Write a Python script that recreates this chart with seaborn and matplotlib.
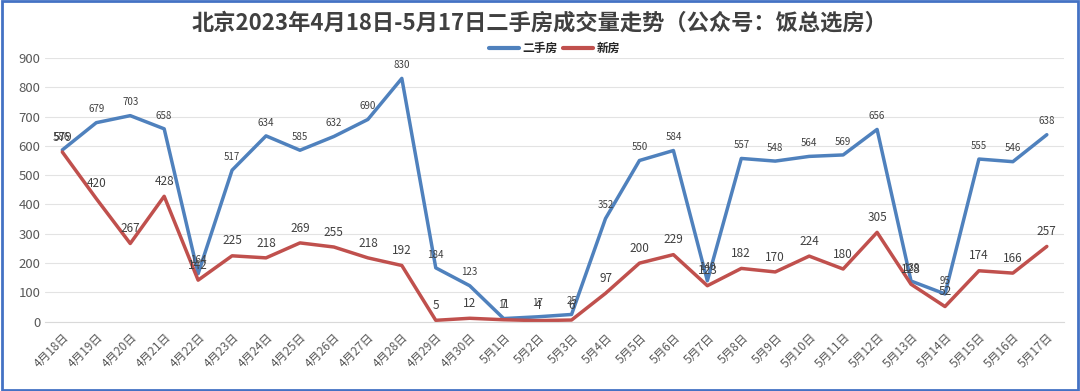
import pandas as pd
import matplotlib.pyplot as plt
import seaborn as sns

# -----------------------------
# Data
# -----------------------------
dates = ['4月18日', '4月19日', '4月20日', '4月21日', '4月22日', '4月23日', '4月24日',
         '4月25日', '4月26日', '4月27日', '4月28日', '4月29日', '4月30日', '5月1日',
         '5月2日', '5月3日', '5月4日', '5月5日', '5月6日', '5月7日', '5月8日', '5月9日',
         '5月10日', '5月11日', '5月12日', '5月13日', '5月14日', '5月15日', '5月16日', '5月17日']
second_hand = [586, 679, 703, 658, 164, 517, 634, 585, 632, 690, 830, 184, 123, 11, 17,
               25, 352, 550, 584, 140, 557, 548, 564, 569, 656, 139, 95, 555, 546, 638]
new_house = [579, 420, 267, 428, 142, 225, 218, 269, 255, 218, 192, 5, 12, 7, 4,
             6, 97, 200, 229, 123, 182, 170, 224, 180, 305, 128, 52, 174, 166, 257]

df = pd.DataFrame({'日期': dates, '二手房': second_hand, '新房': new_house})
long_df = df.melt(id_vars='日期', var_name='类型', value_name='套数')

# -----------------------------
# Style
# -----------------------------
sns.set_style('white')
plt.rcParams['font.family'] = ['Noto Sans CJK SC', 'DejaVu Sans']

blue = '#4F81BD'
red = '#C0504D'

fig = plt.figure(figsize=(10.8, 3.91), dpi=100)
ax = fig.add_axes([0.042, 0.177, 0.943, 0.675])

sns.lineplot(data=long_df, x='日期', y='套数', hue='类型', sort=False,
             palette={'二手房': blue, '新房': red}, linewidth=2.5, ax=ax)

# data labels
for i, v in enumerate(second_hand):
    ax.annotate(str(v), (i, v), xytext=(0, 6), textcoords='offset points',
                ha='center', va='bottom', fontsize=7, color='#404040')
for i, v in enumerate(new_house):
    ax.annotate(str(v), (i, v), xytext=(0, 6), textcoords='offset points',
                ha='center', va='bottom', fontsize=8.5, color='#404040')

ax.set_ylim(0, 900)
ax.set_yticks(range(0, 901, 100))
ax.set_xlim(-0.5, len(dates) - 0.5)
ax.grid(axis='y', color='#E3E3E3', linewidth=0.8)
ax.set_axisbelow(True)
for side in ['top', 'right', 'left']:
    ax.spines[side].set_visible(False)
ax.spines['bottom'].set_color('#D9D9D9')
ax.set_xlabel('')
ax.set_ylabel('')
ax.tick_params(axis='y', labelsize=9.5, colors='#595959', length=0)
ax.tick_params(axis='x', labelsize=8.5, colors='#595959', length=3, color='#D9D9D9')
plt.setp(ax.get_xticklabels(), rotation=45, ha='right', rotation_mode='anchor')

leg = ax.legend(loc='upper center', bbox_to_anchor=(0.5, 1.1), ncol=2, frameon=False,
                fontsize=8.5, handlelength=2.5, columnspacing=0.5, handletextpad=0.3)
for line in leg.get_lines():
    line.set_linewidth(3)
for t in leg.get_texts():
    t.set_fontweight('bold')
    t.set_color('#262626')

fig.suptitle('北京2023年4月18日-5月17日二手房成交量走势（公众号：饭总选房）',
             fontsize=16, fontweight='bold', color='#404040', y=0.97)

# blue frame around chart
fig.patches.append(plt.Rectangle((0.002, 0.003), 0.996, 0.994, transform=fig.transFigure,
                                 fill=False, edgecolor='#4472C4', linewidth=2))

plt.savefig('out.png', dpi=100)
